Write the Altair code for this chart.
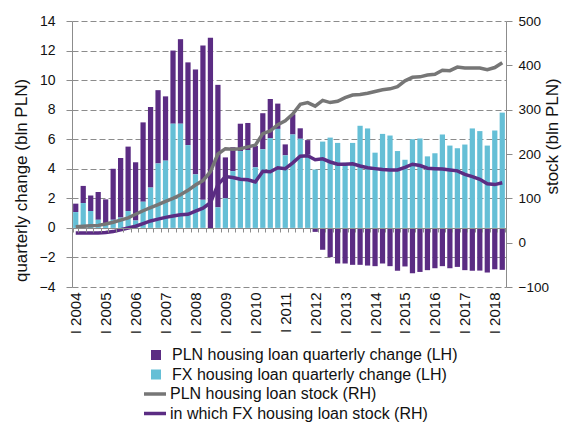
import altair as alt
import pandas as pd

years = list(range(2004, 2019))
roman = ["I", "II", "III", "IV"]
quarters = [f"{r} {y}" for y in years for r in roman][:58]

pln_change = [0.57, 1.16, 1.06, 1.88, 1.63, 3.45, 4.03, 4.36, 3.94, 5.37,
              5.45, 4.96, 4.35, 4.95, 5.72, 5.60, 7.10, 10.45, 12.87, 8.29,
              2.77, 1.62, 1.85, 1.83, 1.45, 2.44, 2.65, 1.71, 0.74, 1.37,
              0.71, 0.99, -0.27, -1.48, -1.98, -2.41, -2.41, -2.50, -2.50, -2.55,
              -2.59, -2.41, -2.59, -2.90, -2.61, -3.07, -2.98, -2.86, -2.73, -2.59,
              -2.73, -2.64, -2.86, -2.90, -2.89, -3.02, -2.80, -2.84]
fx_change = [1.07, 1.68, 1.14, 0.55, 0.30, 0.55, 0.70, 1.14, 0.50, 1.77,
             2.73, 4.36, 4.55, 7.05, 7.05, 5.60, 3.62, 1.90, 0.00, 1.39,
             2.00, 3.84, 5.20, 5.27, 4.10, 5.32, 6.07, 6.70, 4.91, 6.32,
             6.03, 4.95, 3.95, 5.84, 6.11, 5.75, 4.41, 5.75, 6.91, 6.73,
             5.09, 6.36, 6.25, 5.20, 4.61, 6.00, 6.05, 4.84, 5.05, 6.32,
             5.57, 5.39, 5.64, 6.73, 6.55, 5.57, 6.59, 7.80]
pln_stock = [36, 37, 38, 39, 42, 46, 51, 56, 64, 72,
             79, 86, 93, 100, 108, 118, 130, 140, 160, 200,
             212, 211, 212, 216, 220, 246, 252, 266, 275, 290,
             312, 316, 308, 321, 316, 319, 327, 333, 334, 337,
             341, 345, 347, 352, 365, 373, 374, 378, 380, 389,
             388, 396, 394, 394, 394, 390, 395, 406]
fx_stock = [22, 22, 22, 22, 23, 25, 29, 33, 37, 43,
            49, 53, 57, 60, 63, 64, 71, 78, 90, 131,
            149, 147, 143, 142, 137, 161, 160, 169, 167, 180,
            195, 196, 187, 189, 182, 177, 177, 178, 173, 169,
            167, 165, 164, 164, 170, 177, 174, 168, 167, 166,
            164, 162, 154, 149, 143, 133, 131, 135]

PLN_C = "PLN housing loan quarterly change (LH)"
FX_C = "FX housing loan quarterly change (LH)"
PLN_S = "PLN housing loan stock (RH)"
FX_S = "in which FX housing loan stock (RH)"

PURPLE = "#5b2c83"
BLUE = "#65bfd6"
GREY = "#767676"
AXIS_GREY = "#8c8c8c"
TEXT = "#111111"
FONT = "Liberation Sans"

n = len(quarters)
bars_df = pd.DataFrame({
    "q": quarters * 2,
    "series": [PLN_C] * n + [FX_C] * n,
    "value": pln_change + fx_change,
    "ord": [1] * n + [0] * n,
})
lines_df = pd.DataFrame({
    "q": quarters * 2,
    "series": [PLN_S] * n + [FX_S] * n,
    "value": pln_stock + fx_stock,
})

x_enc = alt.X(
    "q:N", sort=quarters, title=None,
    scale=alt.Scale(paddingInner=0.3, paddingOuter=0.15),
    axis=alt.Axis(
        labelExpr="substring(datum.value, 0, 2) == 'I ' ? datum.value : ''",
        labelAngle=270, labelAlign="right", labelBaseline="middle",
        labelFontSize=15, labelColor=TEXT, labelOverlap=False,
        labelPadding=60, offset=-59, tickBand="extent", tickSize=4,
        tickColor=AXIS_GREY, domainColor=AXIS_GREY, grid=False, zindex=1,
    ),
)

bars = alt.Chart(bars_df).mark_bar().encode(
    x=x_enc,
    y=alt.Y(
        "value:Q", stack="zero",
        scale=alt.Scale(domain=[-4, 14], nice=False),
        axis=alt.Axis(
            values=list(range(-4, 15, 2)), grid=True, gridDash=[6, 3],
            gridColor=AXIS_GREY, domainColor=AXIS_GREY, tickColor=AXIS_GREY,
            tickSize=6, labelPadding=11, labelFontSize=14, labelColor=TEXT,
            title="quarterly change (bln PLN)", titleFontSize=17,
            titleFontWeight="normal", titleColor=TEXT,
            titleX=-51, titleY=159, titleAngle=270,
            titleAlign="center", titleBaseline="middle",
        ),
    ),
    color=alt.Color(
        "series:N",
        scale=alt.Scale(domain=[PLN_C, FX_C], range=[PURPLE, BLUE]),
        legend=alt.Legend(
            orient="none", legendX=76, legendY=326, title=None,
            symbolType="square", symbolSize=100, symbolStrokeWidth=0,
            labelFontSize=16, labelColor=TEXT, labelOffset=8,
            labelLimit=400, rowPadding=3.5, padding=0, clipHeight=16,
        ),
    ),
    order=alt.Order("ord:Q"),
)

lines = alt.Chart(lines_df).mark_line(strokeWidth=3.5).encode(
    x=x_enc,
    y=alt.Y(
        "value:Q",
        scale=alt.Scale(domain=[-100, 500], nice=False),
        axis=alt.Axis(
            orient="right", values=list(range(-100, 501, 100)), grid=False,
            domainColor=AXIS_GREY, tickColor=AXIS_GREY, tickSize=6,
            labelPadding=6, labelFontSize=13.5, labelColor=TEXT,
            title="stock (bln PLN)", titleFontSize=17, titleFontWeight="normal",
            titleColor=TEXT, titleX=46, titleY=115, titleAngle=270,
            titleAlign="center", titleBaseline="middle",
        ),
    ),
    color=alt.Color(
        "series:N",
        scale=alt.Scale(domain=[PLN_S, FX_S], range=[GREY, PURPLE]),
        legend=alt.Legend(
            orient="none", legendX=70, legendY=365, title=None,
            symbolType="stroke", symbolSize=484, symbolStrokeWidth=3.5,
            labelFontSize=16, labelColor=TEXT, labelOffset=2,
            labelLimit=400, rowPadding=3.5, padding=0, clipHeight=16,
        ),
    ),
)

chart = alt.layer(bars, lines).resolve_scale(
    y="independent", color="independent"
).properties(
    width=434, height=266,
    autosize=alt.AutoSizeParams(type="none"),
    padding={"left": 64, "top": 13, "right": 56, "bottom": 135},
).configure(font=FONT).configure_view(stroke=None)

chart.save("out.html", embed_options={"renderer": "svg", "actions": False})
